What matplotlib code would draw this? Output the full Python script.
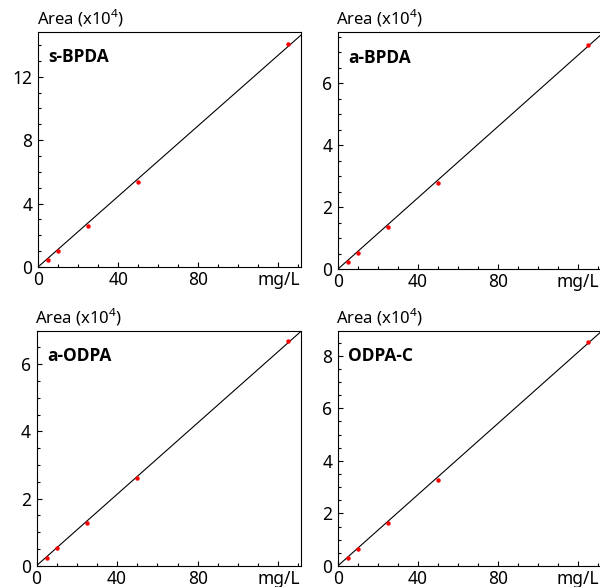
import numpy as np
import matplotlib
matplotlib.use('Agg')
import matplotlib.pyplot as plt
from matplotlib.ticker import MultipleLocator
from matplotlib import font_manager

plt.rcParams['font.family'] = ['Noto Sans', 'DejaVu Sans']
plt.rcParams['mathtext.fontset'] = 'custom'
plt.rcParams['mathtext.rm'] = 'Noto Sans'

# familias com negrito disponivel
fam_negrito = 'Noto Sans'
for f in ['Open Sans', 'Lato', 'Roboto', 'Liberation Sans']:
    try:
        p = font_manager.findfont(font_manager.FontProperties(family=f, weight='bold'),
                                  fallback_to_default=False)
        if 'bold' in p.lower():
            fam_negrito = f
            break
    except Exception:
        pass

# concentracoes (mg/L)
conc = [5, 10, 25, 50, 125]

# areas (x10^4)
area_s_bpda = [0.46, 0.99, 2.59, 5.35, 14.07]
area_a_bpda = [0.25, 0.54, 1.38, 2.79, 7.25]
area_a_odpa = [0.24, 0.52, 1.28, 2.61, 6.68]
area_odpa_c = [0.30, 0.64, 1.63, 3.28, 8.53]

nomes = ['s-BPDA', 'a-BPDA', 'a-ODPA', 'ODPA-C']
ylims = [14.85, 7.65, 7.0, 8.95]
ymajor = [4, 2, 2, 2]
yminor = [1, 0.5, 0.5, 0.5]

x_ticks = [0, 40, 80, 120]
x_ticklabels = ['0', '40', '80', 'mg/L']

W, H = 600, 587
# posicoes dos eixos em pixels: esquerda, topo, direita, base
caixas = [(38, 31.5, 301.5, 267),
          (337.7, 32.3, 601, 269.3),
          (36.5, 330.7, 301.5, 565.7),
          (337.7, 330.7, 601, 566)]

fig = plt.figure(figsize=(W / 100, H / 100), dpi=100)

dados = [area_s_bpda, area_a_bpda, area_a_odpa, area_odpa_c]

for nome, area, ylim, ymj, ymn, cx in zip(nomes, dados, ylims, ymajor, yminor, caixas):
    l, t, r, b = cx
    ax = fig.add_axes([l / W, 1 - b / H, (r - l) / W, (b - t) / H])

    x = np.array(conc, dtype=float)
    y = np.array(area, dtype=float)
    # reta ajustada pela origem
    k = np.sum(x * y) / np.sum(x * x)
    xx = np.array([0, 140])
    ax.plot(xx, k * xx, color='black', lw=0.8, zorder=2)
    ax.plot(x, y, 'o', color='red', ms=3.2, mec='none', zorder=3)

    ax.set_xlim(0, 131.5)
    ax.set_ylim(0, ylim)
    ax.set_xticks(x_ticks)
    ax.set_xticklabels(x_ticklabels)
    ax.xaxis.set_minor_locator(MultipleLocator(10))
    ax.yaxis.set_major_locator(MultipleLocator(ymj))
    ax.yaxis.set_minor_locator(MultipleLocator(ymn))
    ax.tick_params(which='both', direction='in', labelsize=12.5, width=0.8)
    ax.tick_params(which='major', length=3.5, pad=4)
    ax.tick_params(axis='x', which='major', pad=3)
    ax.tick_params(which='minor', length=2)
    for s in ax.spines.values():
        s.set_linewidth(0.8)

    ax.text(0.04, 0.93, nome, transform=ax.transAxes, fontsize=12.5,
            family=fam_negrito, fontweight='bold', va='top', ha='left')
    ax.text(-0.005, 1.012, 'Area (x10$^{4}$)', transform=ax.transAxes,
            fontsize=12, va='bottom', ha='left')

fig.savefig('out.png', dpi=100)
